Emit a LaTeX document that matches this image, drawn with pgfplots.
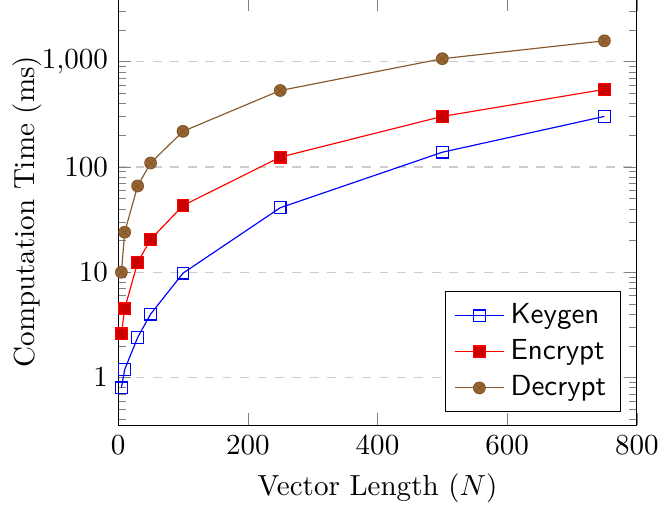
\documentclass[border=0pt]{standalone}
\usepackage{pgfplots}
\pgfplotsset{compat=1.18}
\begin{document}
\begin{tikzpicture}
\begin{axis}[
  name=ax,
  scale only axis,
  width=178.6pt, height=147pt,
  ymode=log,
  ytick={1,10,100,1000},
  yticklabels={$1$,$10$,$100$,$1{,}000$},
  minor ytick={0.4,0.5,0.6,0.7,0.8,0.9,2,3,4,5,6,7,8,9,20,30,40,50,60,70,80,90,200,300,400,500,600,700,800,900,2000,3000},
  xmin=0, xmax=800,
  ymin=0.353, ymax=4000,
  xtick={0,200,400,600,800},
  ymajorgrids,
  grid style={dashed, gray!40},
  xlabel={Vector Length ($N$)},
  ylabel={Computation Time (ms)},
  ylabel shift=-7pt,
  legend pos=south east,
  legend style={font=\sffamily, cells={anchor=west}},
]
\addplot[color=blue, mark=square] coordinates {
(5,0.8) (10,1.19) (30,2.4) (50,4.0) (100,9.8) (250,41) (500,138) (750,302)
};
\addlegendentry{Keygen}
\addplot[color=red, mark=square*, mark options={fill=red!80!black}] coordinates {
(5,2.6) (10,4.5) (30,12.4) (50,20.5) (100,43) (250,124) (500,302) (750,545)
};
\addlegendentry{Encrypt}
\addplot[color=brown!70!black, mark=otimes*, mark options={fill=brown!80!black}] coordinates {
(5,10) (10,24) (30,66) (50,109) (100,218) (250,532) (500,1067) (750,1578)
};
\addlegendentry{Decrypt}
\end{axis}
\pgfresetboundingbox
\path[use as bounding box] ([xshift=-40.7pt,yshift=-29.3pt]ax.south west) rectangle ([xshift=7.3pt,yshift=-0.6pt]ax.north east);
\end{tikzpicture}
\end{document}
